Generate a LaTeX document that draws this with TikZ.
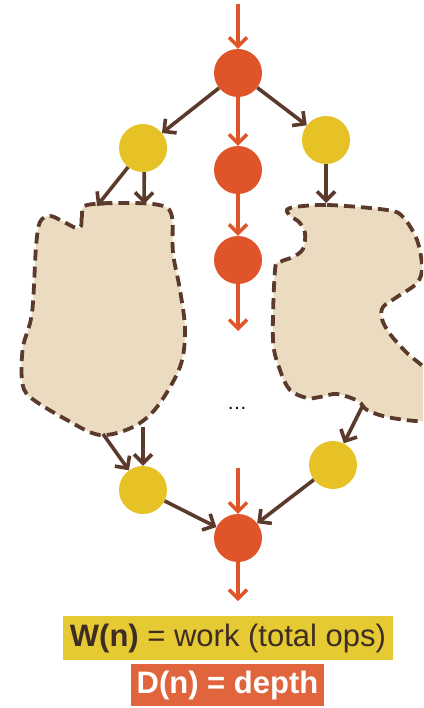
\documentclass[tikz,border=0pt]{standalone}
\usepackage{fontspec}
\setmainfont{Liberation Sans}
\usetikzlibrary{arrows.meta}
\definecolor{redop}{HTML}{E0542A}
\definecolor{yellowop}{HTML}{E6C226}
\definecolor{brownln}{HTML}{5B3A2C}
\definecolor{blobfill}{HTML}{EBDCC1}
\definecolor{lblyellow}{HTML}{E6CA33}
\definecolor{lblorange}{HTML}{E0653C}
\definecolor{lbltext}{HTML}{3E2D25}
\tikzset{
  redop/.style={circle,fill=redop,minimum size=48pt,inner sep=0pt},
  yellowop/.style={circle,fill=yellowop,minimum size=48pt,inner sep=0pt},
  redarrow/.style={draw=redop,line width=3.4pt,-{Straight Barb[length=9pt,width=18pt,line width=3.4pt]}},
  brownarrow/.style={draw=brownln,line width=3.6pt,-{Straight Barb[length=9pt,width=18pt,line width=3.6pt]}},
  blob/.style={fill=blobfill,draw=brownln,line width=3.8pt,dash pattern=on 11pt off 6pt},
  lbl/.style={font=\fontsize{31}{34}\selectfont,inner sep=0pt,text height=24pt,text depth=8pt}
}
\begin{document}
\begin{tikzpicture}[x=1pt,y=-1pt]
\useasboundingbox (0,0) rectangle (423,708);
\clip (0,0) rectangle (423,708);

% irregular sub-computations
\draw[blob] plot[smooth cycle,tension=0.55] coordinates {
  (87,205) (82,216) (81,226) (76,228) (62,221) (50,216) (40,222) (36,247)
  (32,313) (23,347) (22,380) (30,397) (67,420) (100,435) (133,427) (157,407)
  (180,367) (185,330) (180,290) (173,253) (172,217) (163,206) (133,203)};
\draw[blob] plot[smooth cycle,tension=0.55] coordinates {
  (290,208) (327,205) (387,210) (403,217) (417,240) (422,267) (417,283)
  (397,297) (383,307) (382,319) (390,334) (407,353) (428,372) (440,400)
  (430,418) (417,421) (387,417) (367,410) (358,401) (337,394) (320,397)
  (307,398) (290,390) (280,370) (273,340) (275,270) (280,262) (293,257)
  (303,249) (305,233) (299,222) (289,215)};

% central chain
\node[redop] (r1) at (238,73) {};
\node[redop] (r2) at (238,170) {};
\node[redop] (r3) at (238,260) {};
\node[yellowop] (yl1) at (143,148) {};
\node[yellowop] (yr1) at (326,140) {};
\node[yellowop] (yl2) at (143,490) {};
\node[yellowop] (yr2) at (333,465) {};
\node[redop] (r4) at (238,538) {};

\coordinate (in1) at (238,4);
\coordinate (out3) at (238,331);
\coordinate (in4) at (238,468);
\coordinate (out4) at (238,601);
\coordinate (bl1) at (97,206);
\coordinate (bl2) at (144,204);
\coordinate (br1) at (326,203);
\coordinate (bl3) at (103,434);
\coordinate (bl4) at (143,427);
\coordinate (br2) at (362,407);

\draw[redarrow] (in1) -- (r1);
\draw[redarrow] (r1) -- (r2);
\draw[redarrow] (r2) -- (r3);
\draw[redarrow] (r3) -- (out3);
\draw[redarrow] (in4) -- (r4);
\draw[redarrow] (r4) -- (out4);

\draw[brownarrow] (r1) -- (yl1);
\draw[brownarrow] (r1) -- (yr1);
\draw[brownarrow] (yl1.232) -- (bl1);
\draw[brownarrow] (yl1.273) -- (bl2);
\draw[brownarrow] (yr1) -- (br1);
\draw[brownarrow] (bl3) -- (yl2);
\draw[brownarrow] (bl4) -- (yl2);
\draw[brownarrow] (br2) -- (yr2);
\draw[brownarrow] (yl2) -- (r4);
\draw[brownarrow] (yr2) -- (r4);

\node[font=\fontsize{20}{22}\selectfont] (dots) at (237,408) {\dots};

% legend
\node[lbl,fill=lblyellow,text=lbltext,minimum width=330pt,minimum height=44pt] (work) at (228,638)
  {\textbf{W(n)} = work (total ops)};
\node[lbl,fill=lblorange,text=white,minimum width=193pt,minimum height=42pt] (depth) at (227.5,685)
  {\textbf{D(n) = depth}};
\end{tikzpicture}
\end{document}
